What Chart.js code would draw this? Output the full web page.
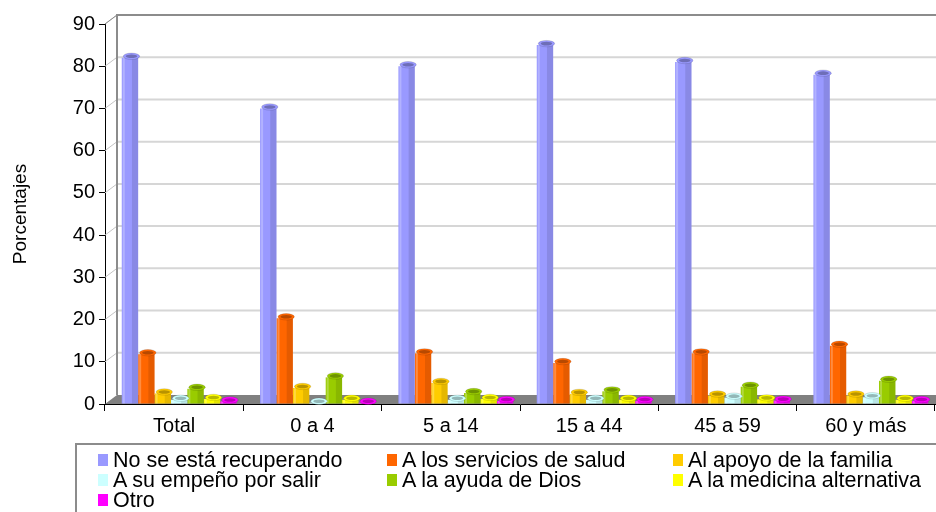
<!DOCTYPE html>
<html>
<head>
<meta charset="utf-8">
<script src="https://cdn.jsdelivr.net/npm/chart.js@4"></script>
<style>
  html, body { margin:0; padding:0; background:#fff; }
  #wrap { position:relative; width:936px; height:512px; overflow:hidden; }
  canvas { position:absolute; left:0; top:0; }
  #legend { position:absolute; left:75px; top:443px; width:900px; height:90px;
            border-top:2px solid #8c8c8c; border-left:2px solid #8c8c8c; box-sizing:border-box;
            font-family:"Liberation Sans", Arial, sans-serif; font-size:21.5px; color:#000; }
  .item { position:absolute; height:20px; line-height:20px; white-space:nowrap; }
  .sw { position:absolute; left:0; top:4px; width:10px; height:12px; }
  .tx { position:absolute; left:15px; top:0; }
</style>
</head>
<body>
<div id="wrap">
  <canvas id="c" width="936" height="512"></canvas>
  <div id="legend"></div>
</div>
<script>
const categories = ["Total", "0 a 4", "5 a 14", "15 a 44", "45 a 59", "60 y más"];
const seriesNames = ["No se está recuperando", "A los servicios de salud", "Al apoyo de la familia",
                     "A su empeño por salir", "A la ayuda de Dios", "A la medicina alternativa", "Otro"];
const seriesColors = ["#9999FF", "#FF6600", "#FFCC00", "#CCFFFF", "#99CC00", "#FFFF00", "#FF00FF"];
const noRecuperando   = [82, 70, 80, 85, 81, 78];
const serviciosSalud  = [11.8, 20.3, 12.0, 9.7, 12.0, 13.8];
const apoyoFamilia    = [2.5, 3.8, 5.0, 2.4, 2.0, 2.0];
const empenoSalir     = [1.0, 0.3, 1.0, 1.0, 1.5, 1.6];
const ayudaDios       = [3.6, 6.3, 2.6, 3.0, 4.1, 5.5];
const medicinaAlt     = [1.2, 1.0, 1.2, 1.0, 1.1, 1.0];
const otro            = [0.6, 0.3, 0.7, 0.7, 0.8, 0.7];
const yTicks = [0, 10, 20, 30, 40, 50, 60, 70, 80, 90];
const seriesValues = [noRecuperando, serviciosSalud, apoyoFamilia, empenoSalir, ayudaDios, medicinaAlt, otro];

const DX = 12, DY = -9, SHIFT = 5;
const FONT = "'Liberation Sans', Arial, sans-serif";

const wallPlugin = {
  id: 'wall',
  beforeDatasetsDraw(chart) {
    const ctx = chart.ctx, ys = chart.scales.y, a = chart.chartArea;
    const L = a.left, B = a.bottom, R = chart.width;
    ctx.save();
    yTicks.forEach(v => {
      if (v === 0) return;
      const yf = ys.getPixelForValue(v);
      ctx.strokeStyle = '#d6d6d6'; ctx.lineWidth = 2;
      ctx.beginPath(); ctx.moveTo(L + DX, yf + DY); ctx.lineTo(R, yf + DY); ctx.stroke();
      ctx.strokeStyle = '#c4c4c4'; ctx.lineWidth = 1;
      ctx.beginPath(); ctx.moveTo(L, yf); ctx.lineTo(L + DX, yf + DY); ctx.stroke();
    });
    const yTop = ys.getPixelForValue(90);
    ctx.strokeStyle = '#8c8c8c'; ctx.lineWidth = 2;
    ctx.beginPath(); ctx.moveTo(L + DX, B + DY); ctx.lineTo(L + DX, yTop + DY); ctx.lineTo(R, yTop + DY); ctx.stroke();
    ctx.lineWidth = 1;
    ctx.beginPath(); ctx.moveTo(L, yTop); ctx.lineTo(L + DX, yTop + DY); ctx.stroke();
    ctx.fillStyle = '#808080';
    ctx.beginPath();
    ctx.moveTo(L, B); ctx.lineTo(L + DX, B + DY); ctx.lineTo(R, B + DY); ctx.lineTo(R, B); ctx.closePath();
    ctx.fill();
    ctx.restore();
  },
  beforeDatasetDraw(chart) {
    chart.ctx.save();
    chart.ctx.translate(SHIFT, 0);
  },
  afterDatasetDraw(chart) {
    chart.ctx.restore();
  },
  afterDatasetsDraw(chart) {
    const ctx = chart.ctx;
    ctx.save();
    ctx.translate(SHIFT, 0);
    chart.data.datasets.forEach((ds, di) => {
      const meta = chart.getDatasetMeta(di);
      meta.data.forEach(bar => {
        const w = bar.width, x0 = bar.x - w / 2, top = bar.y, base = bar.base;
        ctx.fillStyle = 'rgba(0,0,0,0.10)';
        ctx.fillRect(x0 + w * 0.62, top, w * 0.38, base - top);
        ctx.fillStyle = 'rgba(255,255,255,0.25)';
        ctx.fillRect(x0 + 1, top, 2, base - top);
        ctx.beginPath();
        ctx.ellipse(bar.x + 1.5, top - 1.5, w / 2, 3.2, 0, 0, Math.PI * 2);
        ctx.fillStyle = ds.backgroundColor; ctx.fill();
        ctx.strokeStyle = 'rgba(0,0,0,0.12)'; ctx.lineWidth = 1; ctx.stroke();
        ctx.beginPath();
        ctx.ellipse(bar.x + 1.5, top - 1.5, w / 2 - 2.5, 1.8, 0, 0, Math.PI * 2);
        ctx.fillStyle = 'rgba(0,0,0,0.28)'; ctx.fill();
      });
    });
    ctx.restore();
  }
};

const chart = new Chart(document.getElementById('c'), {
  type: 'bar',
  data: {
    labels: categories,
    datasets: seriesNames.map((n, i) => ({
      label: n, data: seriesValues[i], backgroundColor: seriesColors[i], borderWidth: 0
    }))
  },
  options: {
    responsive: false, animation: false,
    layout: { padding: { top: 24, right: 1, left: 0, bottom: 0 } },
    datasets: { bar: { categoryPercentage: 0.83, barPercentage: 1.0 } },
    plugins: { legend: { display: false }, tooltip: { enabled: false } },
    scales: {
      x: {
        grid: { drawOnChartArea: false, color: '#000', tickLength: 7, offset: true },
        border: { color: '#000', width: 1 },
        ticks: { color: '#000', font: { family: FONT, size: 20 }, padding: 3 },
        afterFit(s) { s.height = 108; }
      },
      y: {
        min: 0, max: 90,
        afterBuildTicks(s) { s.ticks = yTicks.map(v => ({ value: v })); },
        grid: { drawOnChartArea: false, color: '#000', tickLength: 6 },
        border: { color: '#000', width: 1 },
        ticks: { color: '#000', font: { family: FONT, size: 20 }, padding: 4 },
        title: { display: true, text: 'Porcentajes', color: '#000', font: { family: FONT, size: 19 }, padding: { top: 9, bottom: 0 } },
        afterFit(s) { s.width = 105; }
      }
    }
  },
  plugins: [wallPlugin]
});

const lg = document.getElementById('legend');
const colX = [21, 310, 596];
seriesNames.forEach((n, i) => {
  const d = document.createElement('div');
  d.className = 'item';
  d.style.left = colX[i % 3] + 'px';
  d.style.top = (5 + Math.floor(i / 3) * 20) + 'px';
  d.innerHTML = '<span class="sw" style="background:' + seriesColors[i] + '"></span><span class="tx"></span>';
  d.querySelector('.tx').textContent = n;
  lg.appendChild(d);
});
</script>
</body>
</html>
